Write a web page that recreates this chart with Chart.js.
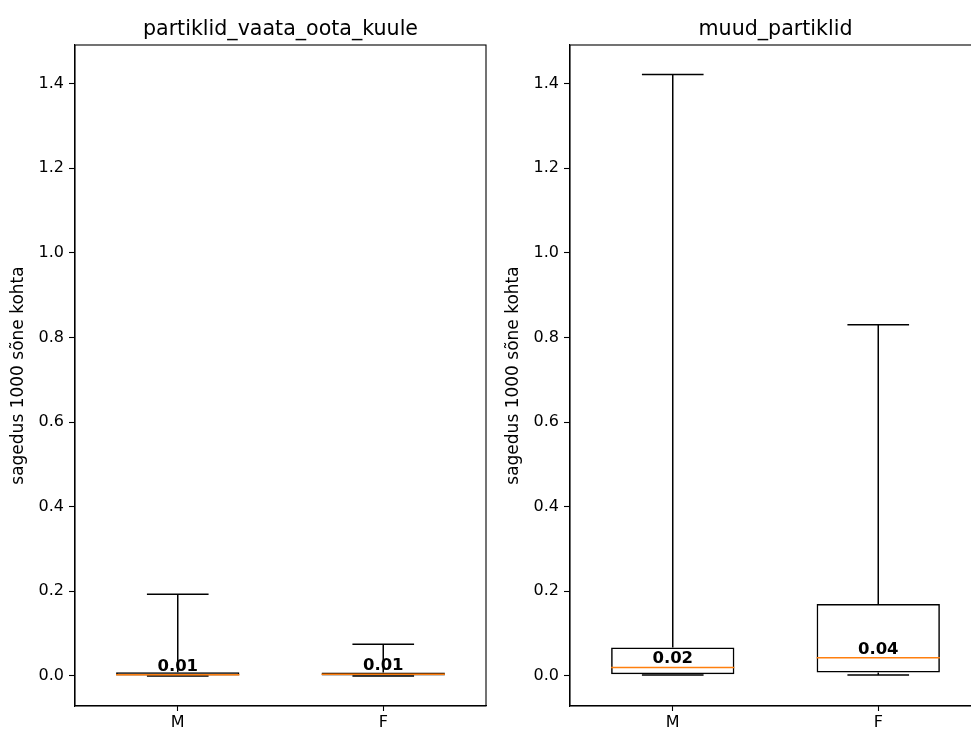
<!DOCTYPE html>
<html><head><meta charset="utf-8">
<script src="https://cdn.jsdelivr.net/npm/chart.js@4"></script>
<style>
html,body{margin:0;padding:0;background:#fff;overflow:hidden;width:971px;height:731px;position:relative}
#c1{position:absolute;left:0;top:0}
#c2{position:absolute;left:495px;top:0}
</style></head><body>
<canvas id="c1" width="490" height="731"></canvas>
<canvas id="c2" width="490" height="731"></canvas>
<script>
const categories = ['M', 'F'];
const panelTitles = ['partiklid_vaata_oota_kuule', 'muud_partiklid'];
const yAxisTitle = 'sagedus 1000 sõne kohta';
const yTicks = [0.0, 0.2, 0.4, 0.6, 0.8, 1.0, 1.2, 1.4];
const yMin = -0.071, yMax = 1.491;

// panel 1: partiklid_vaata_oota_kuule
const p1Low    = [0.000, 0.000];
const p1Q1     = [0.001, 0.001];
const p1Median = [0.003, 0.004];
const p1Q3     = [0.009, 0.008];
const p1High   = [0.193, 0.075];
const p1Labels = ['0.01', '0.01'];

// panel 2: muud_partiklid
const p2Low    = [0.002, 0.002];
const p2Q1     = [0.004, 0.008];
const p2Median = [0.020, 0.043];
const p2Q3     = [0.067, 0.170];
const p2High   = [1.421, 0.830];
const p2Labels = ['0.02', '0.04'];

const FONT = 'DejaVu Sans';

const boxParts = {
  id: 'boxParts',
  afterDatasetsDraw(chart, args, o) {
    const {ctx, chartArea: a} = chart;
    const x = chart.scales.x, y = chart.scales.y;
    const meta = chart.getDatasetMeta(0);
    ctx.save();
    ctx.beginPath(); ctx.rect(a.left, a.top, a.right - a.left, a.bottom - a.top); ctx.clip();
    o.q1.forEach((_, i) => {
      const cx = x.getPixelForValue(i);
      const w = meta.data[i].width;
      const ch = w / 4;
      const yq1 = y.getPixelForValue(o.q1[i]);
      const yq3 = y.getPixelForValue(o.q3[i]);
      const ylo = y.getPixelForValue(o.low[i]);
      const yhi = y.getPixelForValue(o.high[i]);
      const ym = y.getPixelForValue(o.median[i]);
      ctx.strokeStyle = '#000'; ctx.lineWidth = 1.5;
      ctx.beginPath();
      ctx.moveTo(cx, yq3); ctx.lineTo(cx, yhi);
      ctx.moveTo(cx, yq1); ctx.lineTo(cx, ylo);
      ctx.moveTo(cx - ch, yhi); ctx.lineTo(cx + ch, yhi);
      ctx.moveTo(cx - ch, ylo); ctx.lineTo(cx + ch, ylo);
      ctx.stroke();
      ctx.strokeStyle = '#ff7f0e'; ctx.lineWidth = 1.6;
      ctx.beginPath(); ctx.moveTo(cx - w / 2, ym); ctx.lineTo(cx + w / 2, ym); ctx.stroke();
      ctx.fillStyle = '#000';
      ctx.font = 'bold 16.5px "' + FONT + '"';
      ctx.textAlign = 'center'; ctx.textBaseline = 'alphabetic';
      ctx.fillText(o.labels[i], cx, ym - 4);
    });
    ctx.restore();
    ctx.save();
    ctx.strokeStyle = '#000'; ctx.lineWidth = 1.1;
    ctx.strokeRect(a.left, a.top, a.right - a.left, a.bottom - a.top);
    ctx.fillStyle = '#000';
    ctx.font = '20.6px "' + FONT + '"';
    ctx.textAlign = 'center'; ctx.textBaseline = 'alphabetic';
    ctx.fillText(o.title, (a.left + a.right) / 2, 35);
    ctx.restore();
  }
};

function makeChart(id, title, low, q1, median, q3, high, labels) {
  return new Chart(document.getElementById(id), {
    type: 'bar',
    data: {
      labels: categories,
      datasets: [{
        data: q1.map((v, i) => [v, q3[i]]),
        backgroundColor: 'rgba(0,0,0,0)',
        borderColor: '#000',
        borderWidth: 1.5,
        borderSkipped: false,
        barPercentage: 0.6,
        categoryPercentage: 1.0
      }]
    },
    options: {
      responsive: false,
      animation: false,
      devicePixelRatio: 1,
      layout: {padding: {top: 45, right: 4, bottom: 0, left: 0}},
      plugins: {
        legend: {display: false},
        tooltip: {enabled: false},
        boxParts: {title, low, q1, median, q3, high, labels}
      },
      scales: {
        x: {
          type: 'category',
          offset: true,
          grid: {display: true, offset: false, drawOnChartArea: false, drawTicks: true, tickLength: 5, tickColor: '#000', tickWidth: 1.1},
          border: {display: true, color: '#000', width: 1.1},
          ticks: {color: '#000', font: {family: FONT, size: 16}, padding: 2, maxRotation: 0},
          afterFit(s) { s.height = 25; }
        },
        y: {
          type: 'linear',
          min: yMin, max: yMax,
          afterBuildTicks(s) { s.ticks = yTicks.map(v => ({value: v})); },
          grid: {display: true, drawOnChartArea: false, drawTicks: true, tickLength: 6, tickColor: '#000', tickWidth: 1.1},
          border: {display: true, color: '#000', width: 1.1},
          ticks: {color: '#000', font: {family: FONT, size: 16}, padding: 5, callback: v => Number(v).toFixed(1)},
          title: {display: true, text: yAxisTitle, color: '#000', font: {family: FONT, size: 17}, padding: {top: 8, bottom: 0}},
          afterFit(s) { s.width = 75; }
        }
      }
    },
    plugins: [boxParts]
  });
}

makeChart('c1', panelTitles[0], p1Low, p1Q1, p1Median, p1Q3, p1High, p1Labels);
makeChart('c2', panelTitles[1], p2Low, p2Q1, p2Median, p2Q3, p2High, p2Labels);
</script>
</body></html>
